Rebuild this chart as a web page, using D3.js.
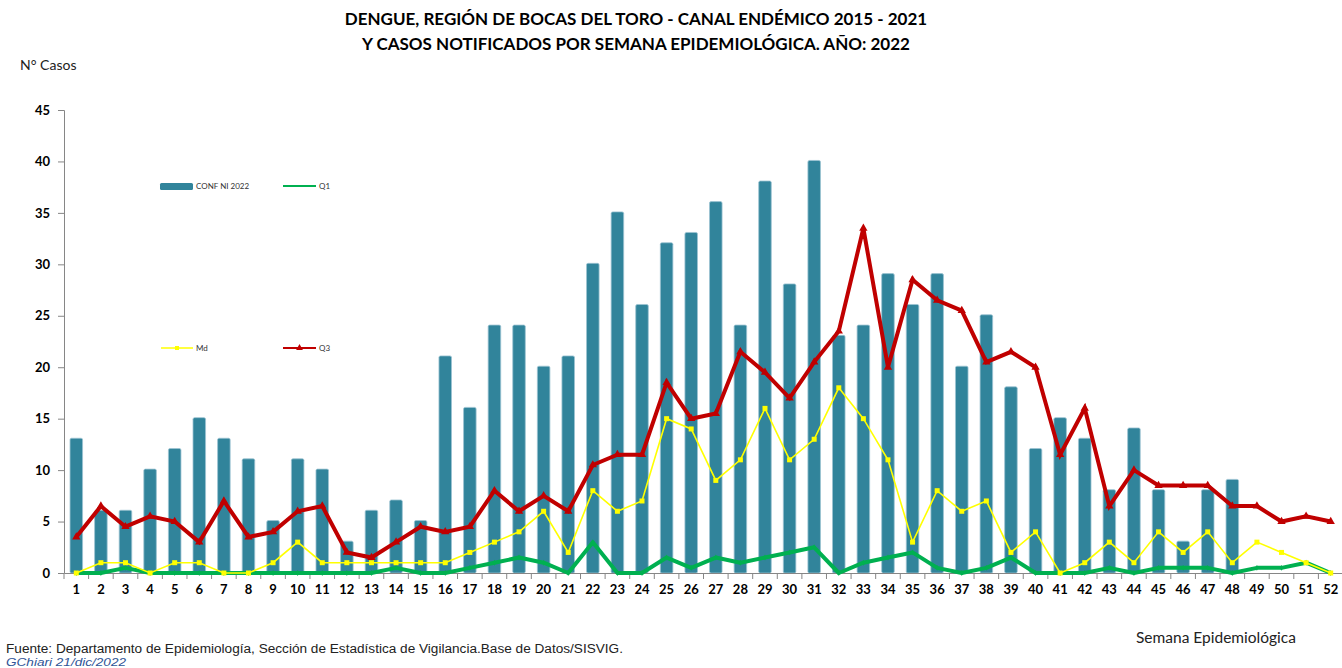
<!DOCTYPE html>
<html>
<head>
<meta charset="utf-8">
<script src="https://cdn.jsdelivr.net/npm/d3@7"></script>
<style>
  body { margin: 0; background: #fff; }
  svg { display: block; }
</style>
</head>
<body>
<script>
// weeks 1..52
var weeks = d3.range(1, 53);

// confirmed cases 2022
var conf = [13, 6, 6, 10, 12, 15, 13, 11, 5, 11, 10, 3, 6, 7, 5, 21, 16, 24, 24, 20,
            21, 30, 35, 26, 32, 33, 36, 24, 38, 28, 40, 23, 24, 29, 26, 29, 20, 25, 18, 12,
            15, 13, 8, 14, 8, 3, 8, 9, 0, 0, 0, 0];

// endemic channel 2015-2021
var q1 = [0, 0, 0.5, 0, 0, 0, 0, 0, 0, 0, 0, 0, 0, 0.5, 0, 0, 0.5, 1, 1.5, 1,
          0, 3, 0, 0, 1.5, 0.5, 1.5, 1, 1.5, 2, 2.5, 0, 1, 1.5, 2, 0.5, 0, 0.5, 1.5, 0,
          0, 0, 0.5, 0, 0.5, 0.5, 0.5, 0, 0.5, 0.5, 1, 0];
var md = [0, 1, 1, 0, 1, 1, 0, 0, 1, 3, 1, 1, 1, 1, 1, 1, 2, 3, 4, 6,
          2, 8, 6, 7, 15, 14, 9, 11, 16, 11, 13, 18, 15, 11, 3, 8, 6, 7, 2, 4,
          0, 1, 3, 1, 4, 2, 4, 1, 3, 2, 1, 0];
var q3 = [3.5, 6.5, 4.5, 5.5, 5, 3, 7, 3.5, 4, 6, 6.5, 2, 1.5, 3, 4.5, 4, 4.5, 8, 6, 7.5,
          6, 10.5, 11.5, 11.5, 18.5, 15, 15.5, 21.5, 19.5, 17, 20.5, 23.5, 33.5, 20, 28.5, 26.5, 25.5, 20.5, 21.5, 20,
          11.5, 16, 6.5, 10, 8.5, 8.5, 8.5, 6.5, 6.5, 5, 5.5, 5];

var yTicks = [0, 5, 10, 15, 20, 25, 30, 35, 40, 45];

var w = 1342, h = 668;
var plotLeft = 64, plotRight = 1343, plotTop = 110, plotBottom = 573;

var svg = d3.select("body").append("svg")
  .attr("width", w)
  .attr("height", h);

var x = d3.scaleBand()
  .domain(weeks)
  .range([plotLeft, plotRight])
  .paddingInner(0.49)
  .paddingOuter(0.245);

var xPos = d3.scaleBand().domain(weeks).range([plotLeft, plotRight]); // full bands for ticks/lines

var y = d3.scaleLinear()
  .domain([0, 45])
  .range([plotBottom, plotTop]);

function cx(d) { return xPos(d) + xPos.bandwidth() / 2; }

// title
var title = svg.append("g")
  .attr("font-family", "Lato, 'Open Sans', sans-serif")
  .attr("font-weight", "bold")
  .attr("font-size", "17px")
  .attr("fill", "#000")
  .attr("text-anchor", "middle");
title.append("text").attr("x", 636).attr("y", 25)
  .text("DENGUE, REGIÓN DE BOCAS DEL TORO - CANAL ENDÉMICO 2015 - 2021");
title.append("text").attr("x", 636).attr("y", 50)
  .text("Y CASOS NOTIFICADOS POR SEMANA EPIDEMIOLÓGICA. AÑO: 2022");

svg.append("text")
  .attr("x", 20).attr("y", 70)
  .attr("font-family", "Lato, sans-serif")
  .attr("font-size", "14px")
  .attr("fill", "#222")
  .text("N° Casos");

// bars
svg.append("g").selectAll("rect")
  .data(weeks.filter(function(d, i) { return conf[i] > 0; }))
  .enter()
  .append("rect")
  .attr("x", function(d) { return x(d); })
  .attr("y", function(d) { return y(conf[d - 1]) - 1; })
  .attr("width", x.bandwidth())
  .attr("height", function(d) { return plotBottom - y(conf[d - 1]) + 1; })
  .attr("rx", 1.5)
  .attr("fill", "#31849B")
  .attr("stroke", "#9CC3D2")
  .attr("stroke-width", 0.8);

// axes
var yAxis = d3.axisLeft(y).tickValues(yTicks).tickSize(6).tickPadding(8);
var gy = svg.append("g")
  .attr("transform", "translate(" + plotLeft + ",0)")
  .call(yAxis);
gy.select(".domain").attr("stroke", "#868686");
gy.selectAll(".tick line").attr("stroke", "#868686");
gy.selectAll(".tick text")
  .attr("font-family", "Lato, sans-serif")
  .attr("font-weight", "bold")
  .attr("font-size", "13px")
  .attr("fill", "#000");

var xAxis = d3.axisBottom(xPos).tickSize(0).tickPadding(12);
var gx = svg.append("g")
  .attr("transform", "translate(0," + plotBottom + ")")
  .call(xAxis);
gx.select(".domain").attr("stroke", "#868686");
gx.selectAll(".tick text")
  .attr("font-family", "Lato, sans-serif")
  .attr("font-weight", "bold")
  .attr("font-size", "13px")
  .attr("fill", "#000");

// tick marks between categories
svg.append("g").selectAll("line")
  .data(weeks)
  .enter()
  .append("line")
  .attr("x1", function(d) { return xPos(d); })
  .attr("x2", function(d) { return xPos(d); })
  .attr("y1", plotBottom)
  .attr("y2", plotBottom + 6)
  .attr("stroke", "#868686");

// lines
var line = function(vals) {
  return d3.line()
    .x(function(d) { return cx(d); })
    .y(function(d) { return y(vals[d - 1]); })(weeks);
};

// Q1
svg.append("path")
  .attr("d", line(q1))
  .attr("fill", "none")
  .attr("stroke", "#00B050")
  .attr("stroke-width", 4)
  .attr("stroke-linejoin", "round");
svg.append("g").selectAll("path")
  .data(weeks)
  .enter()
  .append("path")
  .attr("d", d3.symbol().type(d3.symbolDiamond).size(10))
  .attr("transform", function(d) { return "translate(" + cx(d) + "," + y(q1[d - 1]) + ")"; })
  .attr("fill", "#00B050");

// Md
svg.append("path")
  .attr("d", line(md))
  .attr("fill", "none")
  .attr("stroke", "#FFFF00")
  .attr("stroke-width", 1.6);
svg.append("g").selectAll("rect")
  .data(weeks)
  .enter()
  .append("rect")
  .attr("x", function(d) { return cx(d) - 2.5; })
  .attr("y", function(d) { return y(md[d - 1]) - 2.5; })
  .attr("width", 5)
  .attr("height", 5)
  .attr("fill", "#FFFF00");

// Q3
svg.append("path")
  .attr("d", line(q3))
  .attr("fill", "none")
  .attr("stroke", "#C00000")
  .attr("stroke-width", 4)
  .attr("stroke-linejoin", "miter");
svg.append("g").selectAll("path")
  .data(weeks)
  .enter()
  .append("path")
  .attr("d", d3.symbol().type(d3.symbolTriangle).size(30))
  .attr("transform", function(d) { return "translate(" + cx(d) + "," + y(q3[d - 1]) + ")"; })
  .attr("fill", "#C00000");

// legend
var legend = svg.append("g")
  .attr("font-family", "Lato, sans-serif")
  .attr("font-size", "8px")
  .attr("fill", "#333");

legend.append("rect").attr("x", 160).attr("y", 183).attr("width", 33).attr("height", 7)
  .attr("rx", 1.5).attr("fill", "#31849B");
legend.append("text").attr("x", 196).attr("y", 189).text("CONF NI 2022");

legend.append("line").attr("x1", 283).attr("x2", 316).attr("y1", 186).attr("y2", 186)
  .attr("stroke", "#00B050").attr("stroke-width", 2);
legend.append("text").attr("x", 319).attr("y", 189).text("Q1");

legend.append("line").attr("x1", 161).attr("x2", 193).attr("y1", 348).attr("y2", 348)
  .attr("stroke", "#FFFF00").attr("stroke-width", 1.5);
legend.append("rect").attr("x", 175).attr("y", 346).attr("width", 4).attr("height", 4)
  .attr("fill", "#FFFF00");
legend.append("text").attr("x", 196).attr("y", 351).text("Md");

legend.append("line").attr("x1", 283).attr("x2", 316).attr("y1", 348).attr("y2", 348)
  .attr("stroke", "#C00000").attr("stroke-width", 2);
legend.append("path").attr("d", d3.symbol().type(d3.symbolTriangle).size(20))
  .attr("transform", "translate(299.5,348)").attr("fill", "#C00000");
legend.append("text").attr("x", 319).attr("y", 351).text("Q3");

// x axis title and footer
svg.append("text")
  .attr("x", 1136).attr("y", 643)
  .attr("font-family", "Lato, sans-serif")
  .attr("font-size", "15.5px")
  .attr("fill", "#222")
  .text("Semana Epidemiológica");

svg.append("text")
  .attr("x", 6).attr("y", 653)
  .attr("font-family", "'Liberation Sans', Arial, sans-serif")
  .attr("font-size", "12px")
  .attr("textLength", 617)
  .attr("lengthAdjust", "spacingAndGlyphs")
  .attr("fill", "#222")
  .text("Fuente: Departamento de Epidemiología, Sección de Estadística de Vigilancia.Base de Datos/SISVIG.");

svg.append("text")
  .attr("x", 6).attr("y", 666)
  .attr("font-family", "'Liberation Sans', Arial, sans-serif")
  .attr("font-size", "11px")
  .attr("font-style", "italic")
  .attr("textLength", 120)
  .attr("lengthAdjust", "spacingAndGlyphs")
  .attr("fill", "#2F5597")
  .text("GChiari 21/dic/2022");
</script>
</body>
</html>
